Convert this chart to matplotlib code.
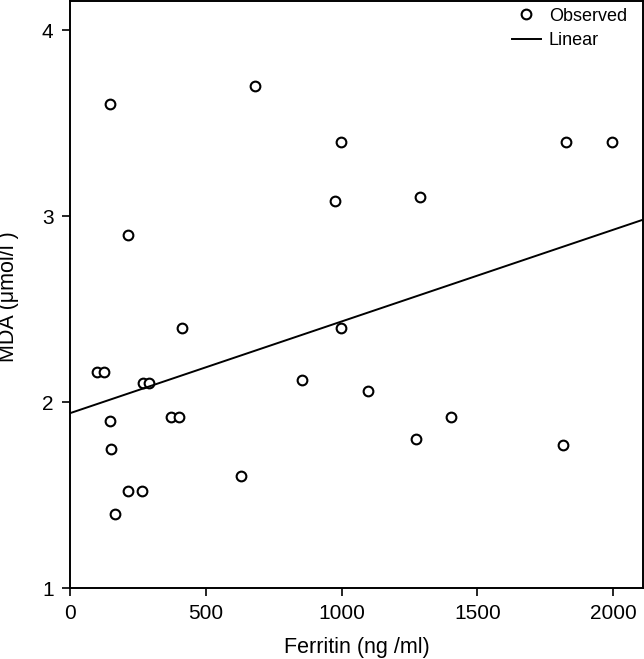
import numpy as np
import matplotlib
matplotlib.use('Agg')
import matplotlib.pyplot as plt

plt.rcParams['font.family'] = ['Liberation Sans', 'DejaVu Sans']

# Ferritin (ng/ml) und MDA (umol/l)
ferritin = [147, 681, 212, 997, 1827, 1997, 974, 1287, 997, 413,
            101, 124, 270, 290, 854, 148, 371, 400, 151, 631,
            214, 266, 166, 1098, 1403, 1273, 1815]
mda = [3.60, 3.70, 2.90, 3.40, 3.40, 3.40, 3.08, 3.10, 2.40, 2.40,
       2.16, 2.16, 2.10, 2.10, 2.12, 1.90, 1.92, 1.92, 1.75, 1.60,
       1.52, 1.52, 1.40, 2.06, 1.92, 1.80, 1.77]

# Regressionsgerade
achse = 1.94
steigung = 0.000493

x_ticks = [0, 500, 1000, 1500, 2000]
y_ticks = [1, 2, 3, 4]

fig = plt.figure(figsize=(6.44, 6.59), dpi=100)
ax = fig.add_axes([0.1087, 0.1077, 0.8898, 0.8908])

ax.plot(ferritin, mda, linestyle='none', marker='o', markersize=7,
        markerfacecolor='white', markeredgecolor='black', markeredgewidth=1.5,
        label='Observed')
xl = np.array([0, 2110])
ax.plot(xl, achse + steigung * xl, color='black', linewidth=1.4, label='Linear')

ax.set_xlim(0, 2110)
ax.set_ylim(1, 4.156)
ax.set_xticks(x_ticks)
ax.set_yticks(y_ticks)
ax.tick_params(direction='out', length=5.8, width=1.2, labelsize=15, pad=6,
               top=False, right=False)
for s in ax.spines.values():
    s.set_linewidth(1.4)

ax.set_xlabel('Ferritin (ng /ml)', fontsize=15.5, va='center')
ax.xaxis.set_label_coords(0.5, -0.102)
ax.set_ylabel('MDA (μmol/l )', fontsize=15.5, va='center')
ax.yaxis.set_label_coords(-0.1065, 0.497)

ax.legend(loc='upper right', bbox_to_anchor=(0.991, 1.007), frameon=False,
          fontsize=13, handlelength=1.6, handletextpad=0.45,
          borderaxespad=0.55, borderpad=0.05, labelspacing=0.4)

fig.savefig('out.png', dpi=100)
